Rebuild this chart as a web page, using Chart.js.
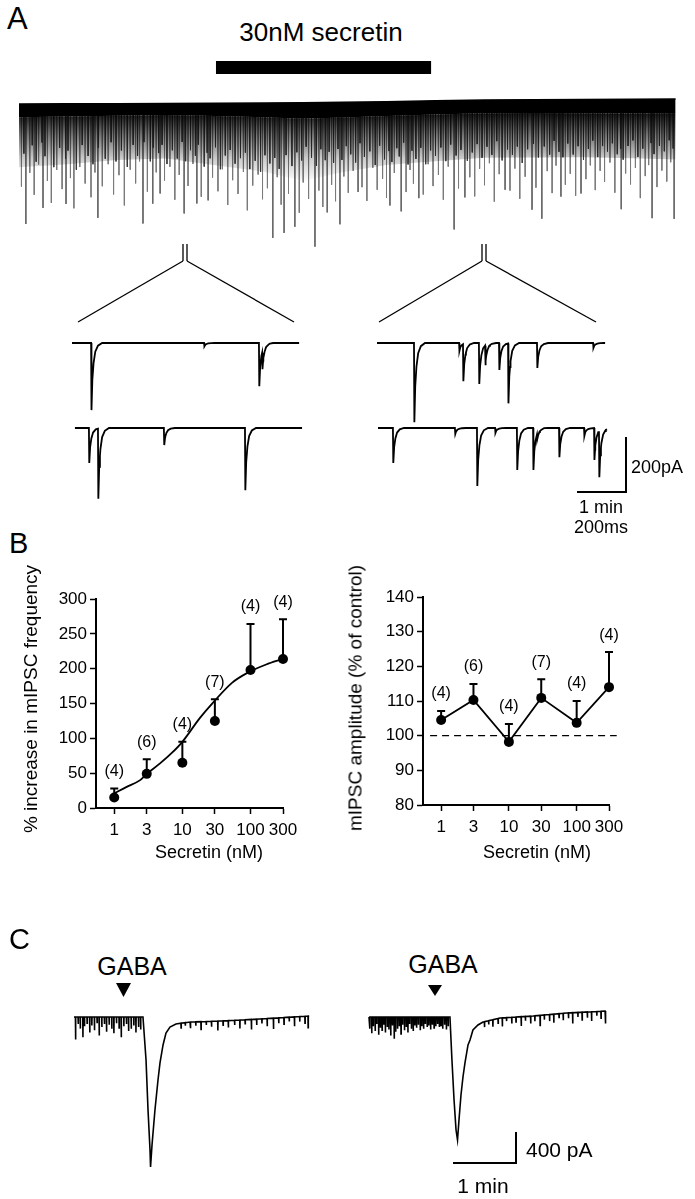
<!DOCTYPE html>
<html>
<head>
<meta charset="utf-8">
<title>Secretin and mIPSCs</title>
<script src="https://cdn.jsdelivr.net/npm/chart.js@4.4.1/dist/chart.umd.min.js"></script>
<style>
  html, body { margin: 0; padding: 0; background: #fff; }
  #fig { position: relative; width: 695px; height: 1199px; overflow: hidden;
         font-family: "Liberation Sans", Arial, Helvetica, sans-serif; color: #000; }
  #fig canvas { position: absolute; }
  .t { position: absolute; line-height: 1; white-space: nowrap; }
  .c { transform: translateX(-50%); }
  .rot { transform: translate(-50%, -50%) rotate(-90deg); }
</style>
</head>
<body>
<div id="fig">
  <svg width="695" height="1199" style="position:absolute;left:0;top:0" stroke="#000" fill="none">
    <g stroke-width="1.3">
      <line x1="183" y1="244" x2="183" y2="261"/>
      <line x1="187" y1="244" x2="187" y2="261"/>
      <line x1="482" y1="244" x2="482" y2="261"/>
      <line x1="486" y1="244" x2="486" y2="261"/>
      <line x1="183" y1="261" x2="78" y2="322"/>
      <line x1="187" y1="261" x2="294" y2="322"/>
      <line x1="482" y1="261" x2="379" y2="322"/>
      <line x1="486" y1="261" x2="596" y2="322"/>
    </g>
    <polygon points="116,983 131,983 123.5,997" fill="#000" stroke="none"/>
    <polygon points="428,985 442,985 435,996" fill="#000" stroke="none"/>
  </svg>

  <canvas id="traceA" width="695" height="215" style="left:0;top:55px"></canvas>
  <canvas id="zoomTraces" width="695" height="210" style="left:0;top:300px"></canvas>
  <canvas id="freqChart" width="330" height="300" style="left:0;top:560px"></canvas>
  <canvas id="ampChart" width="365" height="300" style="left:330px;top:560px"></canvas>
  <canvas id="gabaTraces" width="695" height="205" style="left:0;top:990px"></canvas>

  <div class="t" style="left:7px;top:3px;font-size:31px">A</div>
  <div class="t c" style="left:321px;top:19px;font-size:26px">30nM secretin</div>
  <div class="t" style="left:631px;top:458px;font-size:18px">200pA</div>
  <div class="t c" style="left:601px;top:498px;font-size:18px">1 min</div>
  <div class="t c" style="left:601px;top:518px;font-size:18px">200ms</div>

  <div class="t" style="left:9px;top:529px;font-size:29px">B</div>
  <div class="t rot" style="left:30px;top:699px;font-size:19px">% increase in mIPSC frequency</div>
  <div class="t rot" style="left:355px;top:698px;font-size:19px">mIPSC amplitude (% of control)</div>
  <div class="t c" style="left:209px;top:843px;font-size:18px">Secretin (nM)</div>
  <div class="t c" style="left:537px;top:843px;font-size:18px">Secretin (nM)</div>

  <div class="t" style="left:9px;top:925px;font-size:29px">C</div>
  <div class="t c" style="left:132px;top:954px;font-size:25px">GABA</div>
  <div class="t c" style="left:443px;top:952px;font-size:25px">GABA</div>
  <div class="t" style="left:526px;top:1139px;font-size:21px">400 pA</div>
  <div class="t c" style="left:483px;top:1175px;font-size:21px">1 min</div>
</div>

<script>
// ---------- A: continuous recording (time in min, current in pA) ----------
const aEnvT  = [0, 1, 2, 3, 4, 5, 5.8, 6.6, 7.5, 8.5, 9.5, 10.5, 11.5, 12.5, 13.4];
const aBase  = [-4, -3, -2.5, -2, -1, 0, 1, 3, 5, 8, 11, 12, 13, 14, 14.5];
const aCore  = [48, 46, 44, 42, 46, 52, 58, 56, 52, 50, 48, 48, 50, 52, 54];
const aDense = [230, 220, 205, 200, 225, 250, 285, 255, 230, 220, 210, 210, 210, 215, 220];
const aStreakT = [0.05,0.22,0.31,0.40,0.58,0.66,0.77,0.88,1.05,1.12,
  1.24,1.35,1.47,1.55,1.70,1.82,1.93,2.04,2.15,2.27,
  2.38,2.46,2.62,2.80,2.97,3.08,3.18,3.27,3.45,3.55,
  3.72,3.95,4.06,4.15,4.26,4.36,4.47,4.58,4.66,4.77,
  4.88,4.97,5.07,5.27,5.35,5.50,5.72,5.80,5.91,6.12,
  6.20,6.38,6.46,6.63,6.72,6.82,7.00,7.10,7.22,7.31,
  7.42,7.50,7.66,7.90,7.98,8.05,8.25,8.35,8.45,8.56,
  8.66,8.76,8.97,9.20,9.30,9.40,9.50,9.60,9.70,9.80,
  10.02,10.12,10.22,10.33,10.55,10.78,10.88,10.96,11.15,11.25,
  11.36,11.57,11.66,11.76,11.86,11.95,12.06,12.16,12.38,12.48,
  12.58,12.68,12.78,12.85,13.02,13.12,13.22,13.30];
const aStreakA = [300,250,330,220,280,360,240,310,270,380,
  230,290,340,250,300,220,330,260,370,240,
  290,210,320,250,280,230,350,260,300,220,
  340,270,320,240,370,280,330,250,390,300,
  260,350,310,270,370,330,400,290,350,320,
  380,300,360,270,330,250,310,360,240,320,
  280,350,260,330,250,300,340,230,310,270,
  360,240,320,280,350,250,310,230,370,270,
  330,250,360,280,320,260,340,240,310,270,
  350,290,240,330,260,300,230,340,270,310,
  250,360,280,240,320,260,300,230];
const aShortT = [0.10,0.27,0.35,0.47,0.53,0.71,0.83,0.95,1.00,1.17,
  1.29,1.41,1.51,1.62,1.76,1.88,1.98,2.09,2.21,2.33,
  2.42,2.55,2.68,2.74,2.85,2.92,3.02,3.13,3.23,3.33,
  3.40,3.50,3.60,3.66,3.78,3.84,3.90,4.01,4.11,4.21,
  4.31,4.41,4.52,4.62,4.71,4.82,4.93,5.02,5.12,5.22,
  5.31,5.45,5.57,5.67,5.77,5.86,5.97,6.07,6.16,6.25,
  6.33,6.42,6.51,6.59,6.68,6.77,6.87,6.96,7.05,7.16,
  7.27,7.36,7.46,7.55,7.61,7.71,7.76,7.85,7.94,8.02,
  8.10,8.20,8.30,8.40,8.50,8.61,8.71,8.81,8.92,9.02,
  9.15,9.25,9.35,9.45,9.55,9.65,9.75,9.86,9.97,10.07,
  10.17,10.27,10.38,10.50,10.60,10.72,10.83,10.92,11.02,11.10,
  11.20,11.31,11.41,11.52,11.62,11.71,11.81,11.91,12.01,12.11,
  12.21,12.28,12.33,12.43,12.53,12.63,12.73,12.90,12.96,13.07,
  13.17,13.27,13.35];
const aShortA = [180,150,210,140,190,230,160,200,170,240,
  150,190,220,160,200,140,210,170,230,150,
  190,140,210,160,180,150,220,170,200,140,
  210,170,190,150,230,180,200,160,240,190,
  170,220,200,180,240,210,250,190,220,200,
  240,190,230,180,210,160,200,230,170,210,
  180,220,170,210,160,190,220,150,200,180,
  230,160,210,180,220,170,200,150,230,180,
  210,170,230,180,200,170,220,160,200,180,
  220,190,160,210,170,200,150,220,180,200,
  170,230,180,160,210,170,200,150,190,210,
  160,200,170,220,180,150,210,170,190,160,
  200,180,220,170,150,210,180,160,200,170,
  190,150,180];
const aDeepT = [0.14,0.49,0.96,1.61,2.53,2.73,2.88,3.37,3.63,3.86,
  5.18,5.41,5.63,6.04,6.29,6.55,6.92,7.57,7.80,8.16,
  8.88,9.10,9.92,10.47,10.67,11.06,11.47,12.29,12.92,13.37];
const aDeepA = [436,378,364,415,436,364,327,400,364,353,
  491,473,451,524,400,444,327,378,400,353,
  469,353,327,400,433,353,342,400,433,436];
const secretinOn = 4.02, secretinOff = 8.41;   // min

// ---------- A insets: expanded traces (time in ms, amplitude in pA) ----------
const evShapeMs   = [0, 1.5, 5, 10, 17, 28, 45];
const evShapeFrac = [0, 1, 0.55, 0.3, 0.13, 0.04, 0];
const ctrlTopT = [78, 539, 763, 776];
const ctrlTopA = [244, 12, 157, 65];
const ctrlBotT = [57, 94, 363, 694];
const ctrlBotA = [127, 255, 62, 226];
const secTopT = [151, 335, 351, 416, 441, 498, 535, 653, 882];
const secTopA = [288, 29, 135, 149, 73, 98, 218, 91, 18];
const secBotT = [61, 314, 404, 478, 567, 633, 649, 739, 841, 882, 902];
const secBotA = [127, 22, 211, 18, 153, 153, 20, 106, 29, 116, 168];

// ---------- B: dose response ----------
const secretinNM = [1, 3, 10, 30, 100, 300];
const freqMean   = [15, 49, 65, 125, 198, 214];
const freqErrTop = [28, 70, 95, 156, 264, 271];
const freqN      = ['(4)', '(6)', '(4)', '(7)', '(4)', '(4)'];
const fitNM  = [1, 1.5, 2.4, 3, 4.7, 7, 10, 18, 28, 54, 90, 170, 300];
const fitPct = [21, 30, 40, 49, 64, 79, 95, 129, 151, 180, 194, 206, 214];
const ampMean   = [104.5, 110.3, 98.2, 110.9, 103.7, 114.0];
const ampErrTop = [107.1, 114.9, 103.4, 116.3, 110.0, 124.1];
const ampN      = ['(4)', '(6)', '(4)', '(7)', '(4)', '(4)'];
const freqTicks = [0, 50, 100, 150, 200, 250, 300];
const ampTicks  = [80, 90, 100, 110, 120, 130, 140];
const controlLevel = 100;

// ---------- C: GABA responses (time in s, current in pA) ----------
const cLeftT = [0, 65.7, 68.6, 70.5, 72.4, 72.9, 74.3, 77.1, 80.0, 81.9, 84.8, 87.6, 91.4, 97.1, 110.5, 139, 177, 224];
const cLeftI = [0, 0, -555, -1200, -1716, -1935, -1651, -1200, -813, -593, -361, -206, -129, -90, -65, -52, -26, 13];
const cRightT = [0, 77.1, 79.0, 81.0, 82.9, 84.3, 85.7, 87.6, 89.5, 91.4, 94.3, 96.2, 99.0, 103.8, 108.6, 124.8, 156.2, 188.6, 225.7];
const cRightI = [0, 0, -555, -1071, -1458, -1587, -1329, -1006, -774, -593, -361, -297, -168, -103, -65, -13, 13, 52, 77];
const cLeftSpikeT = [1.5,4,6,8.5,10,12.5,15,17,19.5,22,24,26.5,29,31,33.5,36,38,40.5,43,45,47.5,50,52,54.5,57,59,61.5,63.5,
  102,106,111,116,121,126,131,137,142,147,153,158,163,169,174,179,184,190,195,200,205,210,215,220,223];
const cLeftSpikeA = [290,90,150,260,120,80,200,110,170,70,240,130,90,190,100,150,210,80,140,260,120,90,180,150,110,200,130,160,
  60,40,80,50,100,45,70,120,55,90,60,110,50,130,75,60,100,140,70,85,55,120,65,90,150];
const cRightSpikeT = [0.8,2.6,4.1,5.9,7.4,9.2,10.8,12.5,14.1,15.6,17.4,19.0,20.7,22.3,24.0,25.4,27.2,28.9,30.5,32.0,
  33.8,35.5,37.1,38.6,40.4,42.1,43.7,45.3,47.0,48.8,50.3,52.0,53.6,55.4,57.0,58.7,60.3,62.0,63.6,65.3,
  67.0,68.6,70.2,72.0,73.7,75.4,
  110,114,118,123,127,131,136,140,145,149,154,158,163,167,172,176,181,185,190,194,199,203,208,212,217,221,225];
const cRightSpikeA = [150,210,120,180,90,230,140,170,100,200,130,160,240,110,280,190,150,120,220,100,
  170,130,200,90,150,180,110,140,100,170,120,150,90,130,110,160,100,140,120,90,
  130,110,150,100,160,120,
  70,50,90,60,110,45,80,65,120,55,95,70,130,60,85,110,50,90,70,140,60,100,75,120,55,90,160];

// ---------- helpers ----------
const FONT = '"Liberation Sans", Arial, Helvetica, sans-serif';
Chart.defaults.font.family = FONT;
Chart.defaults.color = '#000';

function interpClamp(xs, ys, t) {
  if (t <= xs[0]) return ys[0];
  for (let i = 1; i < xs.length; i++) {
    if (t <= xs[i]) return ys[i - 1] + (ys[i] - ys[i - 1]) * (t - xs[i - 1]) / (xs[i] - xs[i - 1]);
  }
  return ys[ys.length - 1];
}
function shapeAt(dt) {
  if (dt < 0 || dt > evShapeMs[evShapeMs.length - 1]) return 0;
  return interpClamp(evShapeMs, evShapeFrac, dt);
}
function spikeSegments(ts, amps, baseT, baseV) {
  const pts = [];
  ts.forEach((t, i) => {
    const b = interpClamp(baseT, baseV, t);
    pts.push({ x: t, y: b }, { x: t, y: b - amps[i] }, { x: t, y: null });
  });
  return pts;
}
function insetTrace(t0, i0, dur, evT, evA) {
  const times = new Set([0, dur]);
  evT.forEach(e => evShapeMs.forEach(d => { if (e + d <= dur) times.add(e + d); }));
  return [...times].sort((a, b) => a - b).map(t => {
    let v = 0;
    evT.forEach((e, k) => { v -= evA[k] * shapeAt(t - e); });
    return { x: t0 + t, y: i0 + v };
  });
}
function withSpikes(trT, trI, spT, spA, t0) {
  const pts = trT.map((t, i) => ({ x: t, y: trI[i] }));
  spT.forEach((t, i) => {
    const b = interpClamp(trT, trI, t);
    pts.push({ x: t - 0.15, y: b }, { x: t, y: b - spA[i] }, { x: t + 0.15, y: b });
  });
  pts.sort((a, b) => a.x - b.x);
  return pts.map(p => ({ x: p.x + t0, y: p.y }));
}
function traceChart(id, xmin, xmax, ymin, ymax, datasets) {
  return new Chart(document.getElementById(id), {
    type: 'line',
    data: { datasets },
    options: {
      responsive: false, animation: false, events: [],
      layout: { padding: 0 },
      plugins: { legend: { display: false }, tooltip: { enabled: false } },
      elements: { point: { radius: 0 }, line: { tension: 0 } },
      scales: {
        x: { type: 'linear', min: xmin, max: xmax, display: false },
        y: { type: 'linear', min: ymin, max: ymax, display: false }
      }
    }
  });
}
const line = (data, extra) => Object.assign({ data, borderColor: '#000', borderWidth: 1.5, fill: false, clip: false }, extra);

// fading fill for the dense band of events under the baseline
function bandGradient(context) {
  const chart = context.chart;
  if (!chart.chartArea) return 'rgba(0,0,0,0.5)';
  const y = chart.scales.y;
  const g = chart.ctx.createLinearGradient(0, y.getPixelForValue(-40), 0, y.getPixelForValue(-290));
  g.addColorStop(0, 'rgba(0,0,0,0.9)');
  g.addColorStop(0.3, 'rgba(0,0,0,0.55)');
  g.addColorStop(0.65, 'rgba(0,0,0,0.2)');
  g.addColorStop(1, 'rgba(0,0,0,0)');
  return g;
}

// ---------- A: full recording ----------
{
  const minPerPx = 1 / 49, paPerPx = 200 / 55;        // 1 min = 49 px, 200 pA = 55 px
  const top = 55, h = 215, startPx = 19, basePx = 103;
  const barLevel = (basePx - 67.5) * paPerPx;
  traceChart('traceA',
    -startPx * minPerPx, (695 - startPx) * minPerPx,
    -(top + h - basePx) * paPerPx, (basePx - top) * paPerPx,
    [
      line(aEnvT.map((t, i) => ({ x: t, y: aBase[i] })), { borderWidth: 1.5 }),
      line(aEnvT.map((t, i) => ({ x: t, y: aBase[i] - aCore[i] })), { borderWidth: 0, fill: '-1', backgroundColor: '#000' }),
      line(aEnvT.map((t, i) => ({ x: t, y: aBase[i] - aDense[i] })), { borderWidth: 0, fill: '-1', backgroundColor: bandGradient }),
      line(spikeSegments(aStreakT, aStreakA, aEnvT, aBase), { borderColor: '#7a7a7a', borderWidth: 1 }),
      line(spikeSegments(aShortT, aShortA, aEnvT, aBase), { borderColor: '#3a3a3a', borderWidth: 1 }),
      line(spikeSegments(aDeepT, aDeepA, aEnvT, aBase), { borderColor: '#666', borderWidth: 1 }),
      line([{ x: secretinOn, y: barLevel }, { x: secretinOff, y: barLevel }], { borderWidth: 13, borderCapStyle: 'butt' })
    ]);
}

// ---------- A: expanded traces ----------
{
  const msPerPx = 200 / 49, paPerPx = 200 / 55;
  const top = 300, h = 210, startPx = 72, basePx = 343;
  const rowGap = -(428 - basePx) * paPerPx;
  const rightT0 = (377 - startPx) * msPerPx;
  const sbT = (577 - startPx) * msPerPx, sbI = -(492 - basePx) * paPerPx;
  traceChart('zoomTraces',
    -startPx * msPerPx, (695 - startPx) * msPerPx,
    -(top + h - basePx) * paPerPx, (basePx - top) * paPerPx,
    [
      line(insetTrace(0, 0, 927, ctrlTopT, ctrlTopA), { borderWidth: 1.8 }),
      line(insetTrace(12, rowGap, 927, ctrlBotT, ctrlBotA), { borderWidth: 1.8 }),
      line(insetTrace(rightT0, 0, 931, secTopT, secTopA), { borderWidth: 1.8 }),
      line(insetTrace(rightT0 + 4, rowGap, 935, secBotT, secBotA), { borderWidth: 1.8 }),
      line([{ x: sbT, y: sbI }, { x: sbT + 200, y: sbI }, { x: sbT + 200, y: sbI + 200 }], { borderWidth: 2 })
    ]);
}

// ---------- B: dose-response plots ----------
const errorBarPlugin = {
  id: 'errorBars',
  afterDatasetsDraw(chart, args, opts) {
    const ctx = chart.ctx, xs = chart.scales.x, ys = chart.scales.y;
    ctx.save();
    ctx.strokeStyle = '#000';
    ctx.fillStyle = '#000';
    ctx.lineWidth = 2;
    ctx.font = '16px ' + FONT;
    ctx.textAlign = 'center';
    ctx.textBaseline = 'middle';
    opts.top.forEach((v, i) => {
      const px = xs.getPixelForValue(opts.x[i]);
      const py0 = ys.getPixelForValue(opts.mean[i]);
      const py1 = ys.getPixelForValue(v);
      ctx.beginPath();
      ctx.moveTo(px, py0); ctx.lineTo(px, py1);
      ctx.moveTo(px - 4, py1); ctx.lineTo(px + 4, py1);
      ctx.stroke();
      ctx.fillText(opts.labels[i], px, py1 - 17);
    });
    ctx.restore();
  }
};

function doseAxes(yTicks, yMin, yMax, yWidth, xHeight) {
  const grid = { drawOnChartArea: false, drawTicks: true, tickLength: 6, tickWidth: 1.5, tickColor: '#000', color: '#000' };
  const border = { display: true, color: '#000', width: 2 };
  return {
    x: {
      type: 'logarithmic', min: 0.54, max: 300,
      afterFit(s) { s.height = xHeight; },
      afterBuildTicks(s) { s.ticks = secretinNM.map(v => ({ value: v })); },
      ticks: { autoSkip: false, maxRotation: 0, padding: 6, font: { size: 17 }, color: '#000', callback: v => String(v) },
      grid, border
    },
    y: {
      type: 'linear', min: yMin, max: yMax,
      afterFit(s) { s.width = yWidth; },
      afterBuildTicks(s) { s.ticks = yTicks.map(v => ({ value: v })); },
      ticks: { padding: 3, font: { size: 17 }, color: '#000' },
      grid, border
    }
  };
}
const dotStyle = { pointRadius: 5, pointBackgroundColor: '#000', pointBorderColor: '#000', pointBorderWidth: 0 };

new Chart(document.getElementById('freqChart'), {
  type: 'line',
  data: {
    datasets: [
      line(fitNM.map((x, i) => ({ x, y: fitPct[i] })), { borderWidth: 1.8, pointRadius: 0, cubicInterpolationMode: 'monotone' }),
      line(secretinNM.map((x, i) => ({ x, y: freqMean[i] })), Object.assign({ showLine: false }, dotStyle))
    ]
  },
  options: {
    responsive: false, animation: false, events: [],
    layout: { padding: { top: 39, right: 47, left: 0, bottom: 0 } },
    plugins: {
      legend: { display: false }, tooltip: { enabled: false },
      errorBars: { x: secretinNM, mean: freqMean, top: freqErrTop, labels: freqN }
    },
    scales: doseAxes(freqTicks, 0, 300, 96, 52)
  },
  plugins: [errorBarPlugin]
});

new Chart(document.getElementById('ampChart'), {
  type: 'line',
  data: {
    datasets: [
      line([{ x: 0.687, y: controlLevel }, { x: 390, y: controlLevel }], { borderWidth: 1.2, borderDash: [7, 5], pointRadius: 0 }),
      line(secretinNM.map((x, i) => ({ x, y: ampMean[i] })), Object.assign({ borderWidth: 1.8 }, dotStyle))
    ]
  },
  options: {
    responsive: false, animation: false, events: [],
    layout: { padding: { top: 37, right: 86, left: 0, bottom: 0 } },
    plugins: {
      legend: { display: false }, tooltip: { enabled: false },
      errorBars: { x: secretinNM, mean: ampMean, top: ampErrTop, labels: ampN }
    },
    scales: doseAxes(ampTicks, 80, 140, 93, 55)
  },
  plugins: [errorBarPlugin]
});

// ---------- C: GABA-evoked currents ----------
{
  const sPerPx = 60 / 63, paPerPx = 400 / 31;         // 1 min = 63 px, 400 pA = 31 px
  const top = 990, h = 205, startPx = 74, basePx = 1017;
  const rightT0 = (369 - startPx) * sPerPx;
  const sbT = (453 - startPx) * sPerPx, sbI = -(1163 - basePx) * paPerPx;
  traceChart('gabaTraces',
    -startPx * sPerPx, (695 - startPx) * sPerPx,
    -(top + h - basePx) * paPerPx, (basePx - top) * paPerPx,
    [
      line(withSpikes(cLeftT, cLeftI, cLeftSpikeT, cLeftSpikeA, 0), { borderWidth: 1.6 }),
      line(withSpikes(cRightT, cRightI, cRightSpikeT, cRightSpikeA, rightT0), { borderWidth: 1.6 }),
      line([{ x: sbT, y: sbI }, { x: sbT + 60, y: sbI }, { x: sbT + 60, y: sbI + 400 }], { borderWidth: 2 })
    ]);
}
</script>
</body>
</html>
